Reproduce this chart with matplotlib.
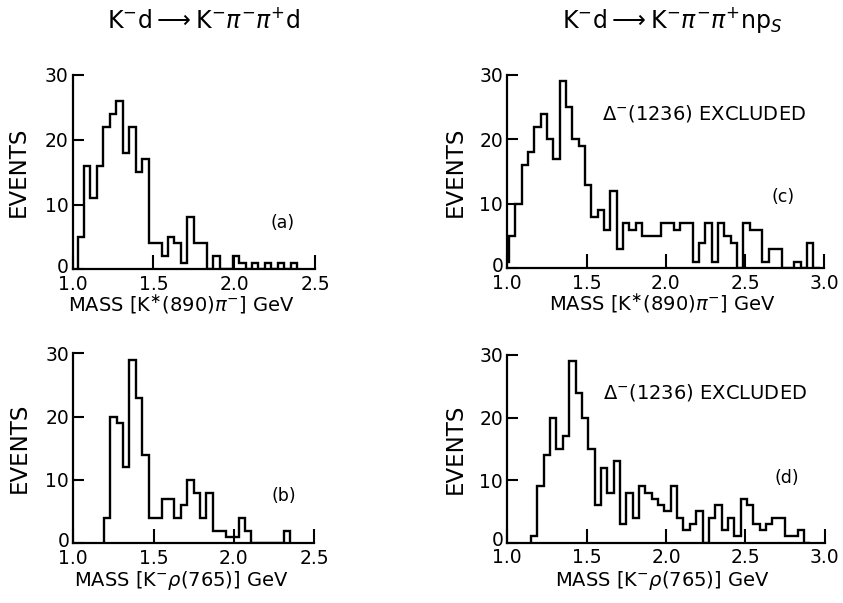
import numpy as np
import matplotlib.pyplot as plt
from matplotlib.transforms import ScaledTranslation

bin_width = 0.04

# (a) K- d -> K- pi- pi+ d, mass of K*(890) pi-
a_start = 1.03
a_counts = [5, 16, 11, 16, 22, 24, 26, 18, 22, 15, 17, 4, 4, 2, 5, 4, 1, 8, 4, 4,
            0, 2, 0, 0, 2, 1, 0, 1, 0, 1, 0, 1, 0, 1]

# (b) K- d -> K- pi- pi+ d, mass of K- rho(765)
b_start = 1.19
b_counts = [4, 20, 19, 12, 29, 23, 14, 4, 4, 7, 7, 4, 6, 10, 8, 4, 8, 2, 2, 1,
            1, 4, 2, 0, 0, 0, 0, 0, 2]

# (c) K- d -> K- pi- pi+ n p_s, mass of K*(890) pi-
c_start = 0.97
c_counts = [1, 5, 10, 16, 18, 22, 24, 20, 17, 29, 25, 20, 19, 13, 8, 9, 6, 12, 3, 7,
            6, 7, 5, 5, 5, 7, 7, 6, 7, 7, 1, 4, 7, 1, 7, 5, 4, 0, 7, 6,
            6, 1, 3, 3, 0, 0, 1, 0, 4, 0]

# (d) K- d -> K- pi- pi+ n p_s, mass of K- rho(765)
d_start = 1.15
d_counts = [1, 9, 14, 20, 15, 17, 29, 24, 20, 15, 6, 12, 8, 13, 3, 8, 4, 9, 8, 7,
            6, 5, 9, 4, 2, 3, 5, 0, 4, 6, 2, 4, 1, 7, 6, 3, 2, 3, 4, 4,
            1, 1, 2, 0]

ticks_short = [1.0, 1.5, 2.0, 2.5]
ticks_long = [1.0, 1.5, 2.0, 2.5, 3.0]
yticks = [0, 10, 20, 30]

label_kstar = r'MASS [K$^{\ast}$(890)$\pi^{-}$] GeV'
label_krho = r'MASS [K$^{-}\rho$(765)] GeV'
note = r'$\Delta^{-}$(1236) EXCLUDED'

fig = plt.figure(figsize=(8.43, 6.03), dpi=100)
W, H = 843, 603


def add_panel(left, right, top, bottom, start, counts, xticks, xlabel, tag, tagx, tagy,
              ylab_x, xlab_x, xlab_y, excluded=False):
    ax = fig.add_axes([left / W, 1 - bottom / H, (right - left) / W, (bottom - top) / H])
    edges = start + bin_width * np.arange(len(counts) + 1)
    ax.stairs(counts, edges, baseline=0, color='black', lw=1.7)
    ax.set_xlim(xticks[0], xticks[-1])
    ax.set_ylim(0, 30)
    ax.set_xticks(xticks)
    ax.set_xticklabels([f'{t:.1f}' for t in xticks])
    ax.set_yticks(yticks)
    for s in ['top', 'right']:
        ax.spines[s].set_visible(False)
    for s in ['left', 'bottom']:
        ax.spines[s].set_linewidth(1.6)
    ax.tick_params(axis='both', direction='in', width=1.5, labelsize=13.5)
    ax.tick_params(axis='y', length=8, pad=3)
    ax.tick_params(axis='x', length=10, pad=4)
    # the "0" sits a little above the baseline, clear of "1.0"
    zero = ax.get_yticklabels()[0]
    zero.set_transform(zero.get_transform() + ScaledTranslation(0, 3 / 72, fig.dpi_scale_trans))
    ax.set_ylabel('EVENTS', fontsize=16.5, va='center')
    ax.yaxis.set_label_coords(ylab_x, 0.5)
    ax.set_xlabel(xlabel, fontsize=14, va='center')
    ax.xaxis.set_label_coords(xlab_x, xlab_y)
    ax.text(tagx, tagy, tag, fontsize=12.5, ha='center', va='center')
    if excluded:
        ax.text(1.6, 24, note, fontsize=14, ha='left', va='center')
    return ax


add_panel(72.7, 315, 75, 269.3, a_start, a_counts, ticks_short, label_kstar,
          '(a)', 2.30, 7.1, -0.226, 0.447, -0.182)
add_panel(73.3, 314, 353.3, 543.3, b_start, b_counts, ticks_short, label_krho,
          '(b)', 2.31, 7.4, -0.226, 0.447, -0.195)
add_panel(507.3, 824.3, 75, 268.3, c_start, c_counts, ticks_long, label_kstar,
          '(c)', 2.74, 11.1, -0.163, 0.488, -0.184, excluded=True)
add_panel(507.3, 824.7, 355, 542.7, d_start, d_counts, ticks_long, label_krho,
          '(d)', 2.76, 10.3, -0.163, 0.488, -0.2, excluded=True)

fig.text(204 / W, 1 - 20 / H, r'K$^{-}$d$\longrightarrow$K$^{-}\pi^{-}\pi^{+}$d',
         fontsize=17, ha='center', va='center')
fig.text(672 / W, 1 - 20 / H, r'K$^{-}$d$\longrightarrow$K$^{-}\pi^{-}\pi^{+}$np$_{S}$',
         fontsize=17, ha='center', va='center')

fig.savefig('out.png', dpi=100, facecolor='white')
